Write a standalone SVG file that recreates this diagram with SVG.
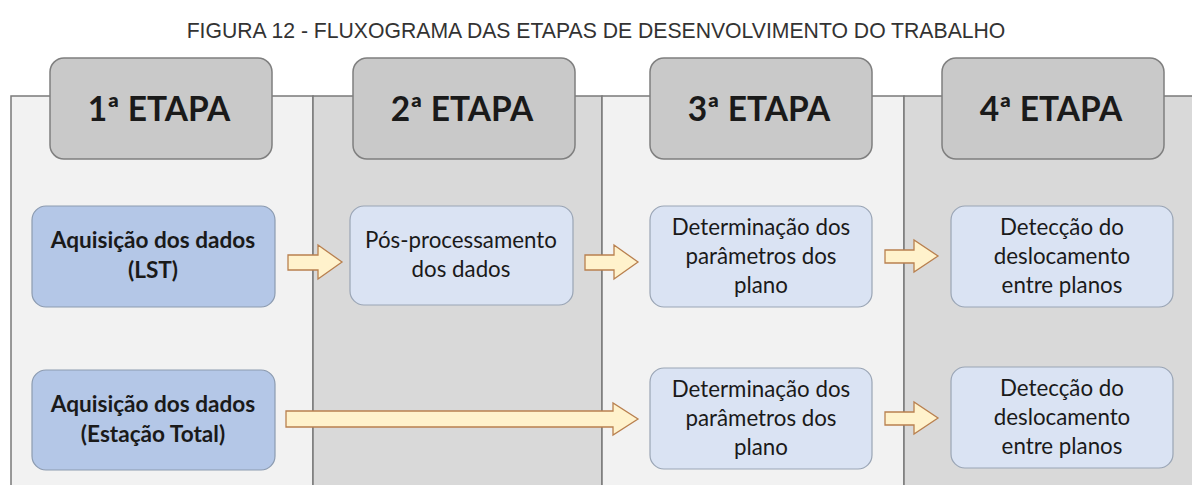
<svg xmlns="http://www.w3.org/2000/svg" width="1192" height="485" viewBox="0 0 1192 485">
<style>
.title{font-family:"Liberation Sans",Arial,sans-serif;font-size:21.2px;fill:#333;text-anchor:middle}
.colL{fill:#f2f2f2;stroke:#7a7a7a;stroke-width:1.5}
.colD{fill:#d9d9d9;stroke:#7a7a7a;stroke-width:1.5}
.hdr{fill:#c9c9c9;stroke:#7f7f7f;stroke-width:1.5}
.htxt{font-family:Lato,"Open Sans",sans-serif;font-weight:bold;font-size:33.5px;fill:#1a1a1a;text-anchor:middle}
.nb{fill:#b4c7e7;stroke:#8c9bb0;stroke-width:1.2}
.nl{fill:#dae3f3;stroke:#9aa5b5;stroke-width:1.2}
.t{font-family:Lato,"Open Sans",sans-serif;font-size:22.3px;fill:#1a1a1a;text-anchor:middle}
.tb{font-family:Lato,"Open Sans",sans-serif;font-size:22.6px;font-weight:bold;fill:#1a1a1a;text-anchor:middle}
.arr{fill:#fff2cc;stroke:#b9804f;stroke-width:1.3;stroke-linejoin:miter}
</style>
<rect width="1192" height="485" fill="#ffffff"/>
<text class="title" x="596" y="38">FIGURA 12 - FLUXOGRAMA DAS ETAPAS DE DESENVOLVIMENTO DO TRABALHO</text>
<g id="columns">
<rect class="colL" x="11" y="96" width="302" height="400"/>
<rect class="colD" x="313" y="96" width="289" height="400"/>
<rect class="colL" x="602" y="96" width="302" height="400"/>
<rect class="colD" x="904" y="96" width="300" height="400"/>
</g>
<g id="h1"><rect class="hdr" x="50" y="58" width="222" height="101" rx="14"/><text class="htxt" x="159" y="121">1ª ETAPA</text></g>
<g id="h2"><rect class="hdr" x="353" y="58" width="222" height="101" rx="14"/><text class="htxt" x="462" y="121">2ª ETAPA</text></g>
<g id="h3"><rect class="hdr" x="650" y="58" width="222" height="101" rx="14"/><text class="htxt" x="759" y="121">3ª ETAPA</text></g>
<g id="h4"><rect class="hdr" x="942" y="58" width="222" height="101" rx="14"/><text class="htxt" x="1051" y="121">4ª ETAPA</text></g>
<g id="n1"><rect class="nb" x="32" y="206" width="243" height="101" rx="14"/><text class="tb" x="153" y="248">Aquisição dos dados</text><text class="tb" x="153" y="278">(LST)</text></g>
<g id="n2"><rect class="nl" x="350" y="206" width="223" height="99" rx="14"/><text class="t" x="461" y="248">Pós-processamento</text><text class="t" x="461" y="277">dos dados</text></g>
<g id="n3"><rect class="nl" x="650" y="206" width="222" height="101" rx="14"/><text class="t" x="761" y="235">Determinação dos</text><text class="t" x="761" y="264">parâmetros dos</text><text class="t" x="761" y="293">plano</text></g>
<g id="n4"><rect class="nl" x="951" y="206" width="222" height="101" rx="14"/><text class="t" x="1062" y="235">Detecção do</text><text class="t" x="1062" y="264">deslocamento</text><text class="t" x="1062" y="293">entre planos</text></g>
<g id="n5"><rect class="nb" x="32" y="370" width="243" height="100" rx="14"/><text class="tb" x="153" y="412">Aquisição dos dados</text><text class="tb" x="153" y="442">(Estação Total)</text></g>
<g id="n6"><rect class="nl" x="650" y="368" width="222" height="101" rx="14"/><text class="t" x="761" y="397">Determinação dos</text><text class="t" x="761" y="426">parâmetros dos</text><text class="t" x="761" y="455">plano</text></g>
<g id="n7"><rect class="nl" x="951" y="367" width="222" height="101" rx="14"/><text class="t" x="1062" y="396">Detecção do</text><text class="t" x="1062" y="425">deslocamento</text><text class="t" x="1062" y="454">entre planos</text></g>
<g id="connectors">
<polygon class="arr" points="288,255 318,255 318,245 342,262 318,279 318,270 288,270"/>
<polygon class="arr" points="585,255 614,255 614,245 638,262 614,279 614,270 585,270"/>
<polygon class="arr" points="885,250 914,250 914,240 938,256 914,272 914,263 885,263"/>
<polygon class="arr" points="286,411 613,411 613,403 638,419 613,435 613,427 286,427"/>
<polygon class="arr" points="885,412 914,412 914,402 938,418 914,434 914,425 885,425"/>
</g>
</svg>
